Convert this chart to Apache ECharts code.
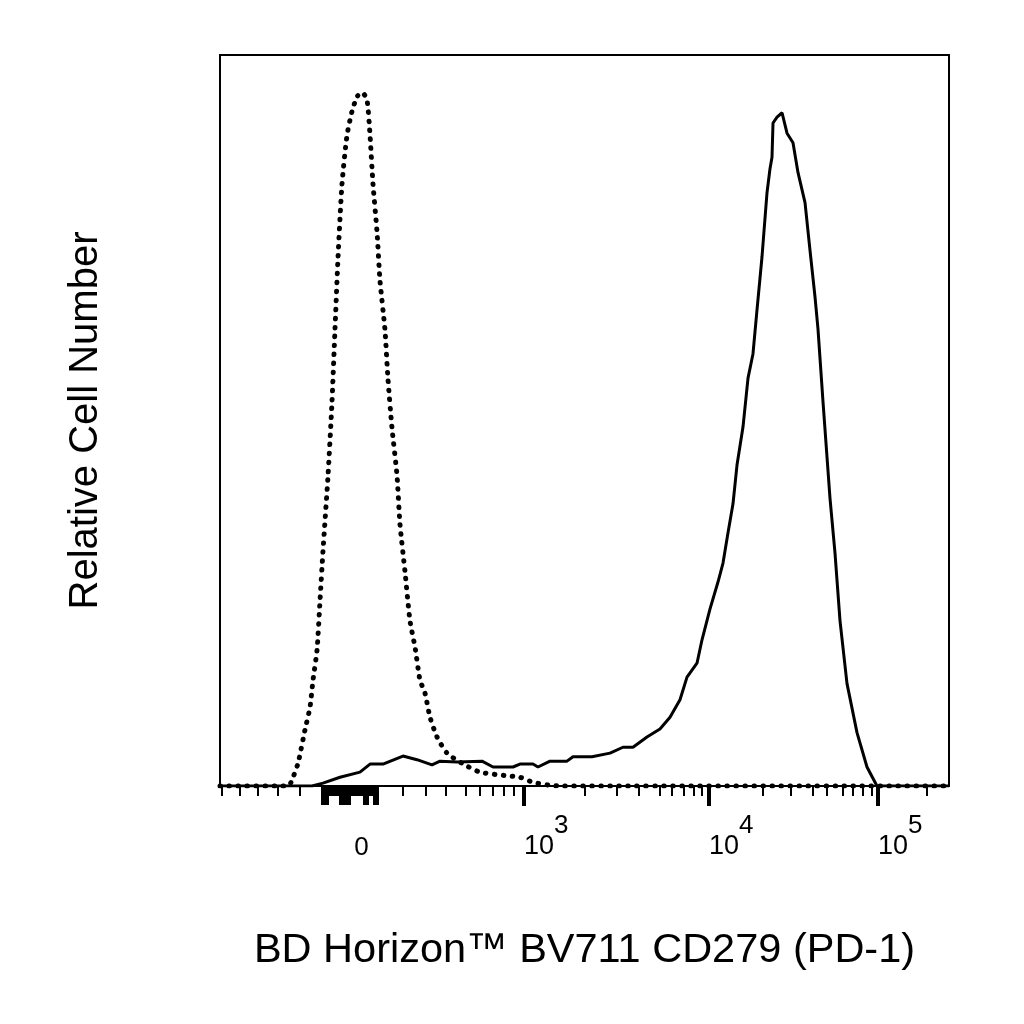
<!DOCTYPE html>
<html>
<head>
<meta charset="utf-8">
<script src="https://cdn.jsdelivr.net/npm/echarts@6/dist/echarts.min.js"></script>
<style>
html, body { margin: 0; padding: 0; background: #fff; }
#container { width: 1024px; height: 1024px; }
</style>
</head>
<body>
<div id="container"></div>
<script>
// x values are display channels (0-1000, biexponential scale), y is relative count (0-100)
var isotypeX = [0, 93.3, 97.4, 107.0, 116.6, 123.5, 127.6, 133.1, 137.2, 141.3, 148.2, 153.6, 157.7, 161.9, 167.3, 174.2, 181.1, 188.0, 194.8,
    201.6, 205.8, 209.9, 215.4, 219.5, 226.3, 230.4, 235.9, 242.8, 246.9, 253.8, 260.6, 267.5, 274.3, 281.2, 288.1, 297.7, 311.4,
    332.0, 356.6, 393.7, 411.5, 429.3, 452.7, 466.4, 1000];
var isotypeY = [0, 0, 0.5, 3.1, 7.7, 10.8, 14.5, 18.6, 25.4, 32.2, 42.5, 52.5, 62.4, 72.3, 82.3, 89.0, 92.3, 94.3, 94.9,
    93.9, 89.0, 82.3, 75.8, 69.1, 62.4, 55.7, 49.0, 42.5, 35.8, 29.3, 22.6, 19.0, 14.5, 12.7, 9.4, 6.7, 4.5,
    3.1, 1.9, 1.4, 1.2, 0.5, 0.1, 0, 0];

var stainedX = [0, 126.2, 141.3, 164.6, 192.0, 205.8, 223.6, 251.0, 270.2, 290.8, 301.8, 325.1, 359.4, 374.5, 401.9, 411.5, 429.3,
    436.2, 452.7, 476.0, 484.2, 510.3, 535.0, 552.8, 566.5, 585.7, 603.5, 617.3, 631.0, 640.6, 654.3, 661.2, 672.1, 683.1,
    690.0, 696.8, 703.7, 709.2, 717.4, 724.3, 731.1, 736.6, 743.5, 750.3, 754.4, 757.2, 758.6, 764.1, 771.0, 775.1, 777.8,
    786.0, 792.9, 802.5, 809.3, 816.2, 820.3, 827.2, 836.8, 843.6, 850.5, 860.1, 873.8, 887.5, 901.2, 1000];
var stainedY = [0, 0, 0.4, 1.2, 1.9, 3.0, 3.0, 4.1, 3.6, 2.9, 3.4, 3.3, 3.4, 2.6, 2.6, 3.0, 3.0,
    2.6, 3.4, 3.4, 4.0, 4.0, 4.5, 5.3, 5.3, 6.7, 7.8, 9.4, 11.8, 14.9, 16.8, 20.0, 24.2, 27.9,
    30.5, 34.6, 38.6, 43.9, 49.1, 55.8, 59.1, 65.1, 72.4, 81.1, 84.4, 86.0, 90.7, 91.5, 92.1, 90.4, 89.3,
    88.0, 83.9, 79.8, 73.3, 66.9, 62.5, 52.5, 39.3, 31.9, 22.6, 14.0, 7.3, 2.6, 0, 0];

// axis ticks (display channels)
var minorTicks = [2.7, 27.4, 52.1, 79.6, 109.7,
    139.9, 142.7, 145.4, 148.1, 150.9, 153.6, 156.4, 159.1, 161.9, 164.6, 167.3, 170.1, 172.8, 175.5, 178.3,
    181.1, 183.8, 186.5, 189.3, 192.0, 194.8, 197.5, 200.3, 203.0, 205.8, 208.5, 211.2, 214.0, 216.7,
    251.0, 282.6, 310.0, 337.4, 356.6, 374.5, 389.6, 403.3,
    500.7, 544.6, 574.7, 603.5, 620.0, 636.5, 650.2, 661.2,
    744.8, 783.2, 813.4, 832.6, 854.5, 868.3, 882.0, 894.3, 969.8];
var zeroTicks = [139.9, 142.7, 145.4, 148.1, 164.6, 167.3, 170.1, 172.8, 175.5, 178.3, 197.5, 200.3, 203.0, 211.2, 214.0, 216.7];
var zeroLabel = [194.0];
var decadeTicks = [417.0, 670.8, 902.6];
var decadeExp = ['3', '4', '5'];

var font = 'Liberation Sans, Arial, sans-serif';

function baseAxis(extra) {
    var a = {
        type: 'value',
        min: 0,
        max: 1000,
        position: 'bottom',
        offset: 0,
        axisLine: { show: false },
        splitLine: { show: false },
        axisTick: { show: false },
        axisLabel: { show: false }
    };
    for (var k in extra) a[k] = extra[k];
    return a;
}

option = {
    animation: false,
    backgroundColor: '#fff',
    grid: {
        left: 220, top: 55, right: 75, bottom: 238,
        show: true, borderColor: '#000', borderWidth: 2
    },
    xAxis: [
        baseAxis({
            name: 'BD Horizon\u2122 BV711 CD279 (PD-1)',
            nameLocation: 'middle',
            nameGap: 144,
            nameTextStyle: { fontFamily: font, fontSize: 41.5, color: '#000' },
            axisLine: { show: true, lineStyle: { color: '#000', width: 2 } },
            axisTick: { show: true, length: 10, customValues: minorTicks, lineStyle: { color: '#000', width: 2 } }
        }),
        baseAxis({
            axisTick: { show: true, length: 19, customValues: zeroTicks, lineStyle: { color: '#000', width: 2 } },
            axisLabel: {
                show: true, customValues: zeroLabel, margin: 49,
                fontFamily: font, fontSize: 26, color: '#000',
                formatter: function () { return '0'; }
            }
        }),
        baseAxis({
            axisTick: { show: true, length: 20, customValues: decadeTicks, lineStyle: { color: '#000', width: 4 } },
            axisLabel: {
                show: true, customValues: decadeTicks, margin: 27, align: 'left',
                color: '#000',
                formatter: function (v) {
                    var i = 0;
                    for (var j = 0; j < decadeTicks.length; j++) {
                        if (Math.abs(decadeTicks[j] - v) < Math.abs(decadeTicks[i] - v)) i = j;
                    }
                    return '{s| }{b|10}{e|' + decadeExp[i] + '}';
                },
                rich: {
                    s: { fontSize: 1, lineHeight: 47, width: 0 },
                    b: { fontFamily: font, fontSize: 27, color: '#000', lineHeight: 27, verticalAlign: 'bottom' },
                    e: { fontFamily: font, fontSize: 26, color: '#000', lineHeight: 26, verticalAlign: 'top' }
                }
            }
        })
    ],
    yAxis: {
        type: 'value',
        min: 0,
        max: 100,
        name: 'Relative Cell Number',
        nameLocation: 'middle',
        nameGap: 114,
        nameTextStyle: { fontFamily: font, fontSize: 40, color: '#000' },
        axisLine: { show: false },
        axisTick: { show: false },
        axisLabel: { show: false },
        splitLine: { show: false }
    },
    series: [
        {
            name: 'isotype',
            type: 'line',
            xAxisIndex: 0,
            symbol: 'none',
            smooth: 0.2,
            lineStyle: { color: '#000', width: 5, type: [0.5, 8.5], cap: 'round' },
            data: isotypeX.map(function (x, i) { return [x, isotypeY[i]]; })
        },
        {
            name: 'CD279',
            type: 'line',
            xAxisIndex: 0,
            symbol: 'none',
            lineStyle: { color: '#000', width: 3 },
            data: stainedX.map(function (x, i) { return [x, stainedY[i]]; })
        }
    ]
};

var myChart = echarts.init(document.getElementById('container'));
myChart.setOption(option);
</script>
</body>
</html>
